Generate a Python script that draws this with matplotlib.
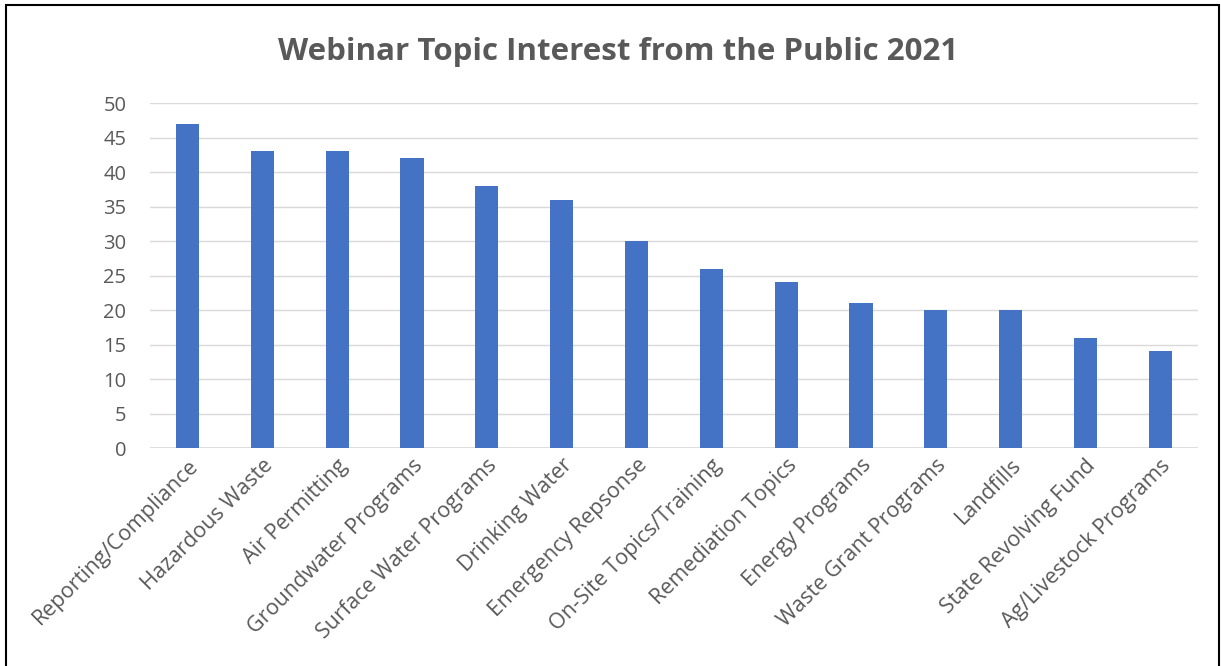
import matplotlib.pyplot as plt
from matplotlib.patches import Rectangle

topics = ["Reporting/Compliance", "Hazardous Waste", "Air Permitting",
          "Groundwater Programs", "Surface Water Programs", "Drinking Water",
          "Emergency Repsonse", "On-Site Topics/Training", "Remediation Topics",
          "Energy Programs", "Waste Grant Programs", "Landfills",
          "State Revolving Fund", "Ag/Livestock Programs"]
counts = [47, 43, 43, 42, 38, 36, 30, 26, 24, 21, 20, 20, 16, 14]
yticks = [0, 5, 10, 15, 20, 25, 30, 35, 40, 45, 50]

plt.rcParams['font.family'] = ['Open Sans', 'DejaVu Sans']
text_color = '#595959'

fig = plt.figure(figsize=(12.21, 6.66), dpi=100)
ax = fig.add_axes([0.1229, 0.3273, 0.858, 0.518])

x = range(len(topics))
ax.bar(x, counts, width=0.31, color='#4472C4', zorder=3)

ax.set_xlim(-0.5, len(topics) - 0.5)
ax.set_ylim(0, 50)
ax.set_yticks(yticks)
ax.set_yticklabels([str(v) for v in yticks], fontsize=14.5, color=text_color)
ax.set_xticks(list(x))
ax.set_xticklabels(topics, rotation=45, ha='right', va='top', rotation_mode='anchor',
                   fontsize=15.5, color=text_color)
ax.tick_params(axis='both', length=0)
ax.tick_params(axis='y', pad=17)
ax.tick_params(axis='x', pad=5)
ax.grid(axis='y', color='#d9d9d9', linewidth=1, zorder=0)
for s in ax.spines.values():
    s.set_visible(False)
ax.axhline(0, color='#d9d9d9', linewidth=1.2, zorder=2)

fig.text(0.506, 0.922, "Webinar Topic Interest from the Public 2021", ha='center', va='center',
         fontsize=22.5, fontweight='bold', color=text_color)

# frame around the chart area
fig.patches.append(Rectangle((0.005, -0.01), 0.993, 1.0025, transform=fig.transFigure,
                             fill=False, edgecolor='black', linewidth=1.5))

fig.savefig('out.png', dpi=100)
